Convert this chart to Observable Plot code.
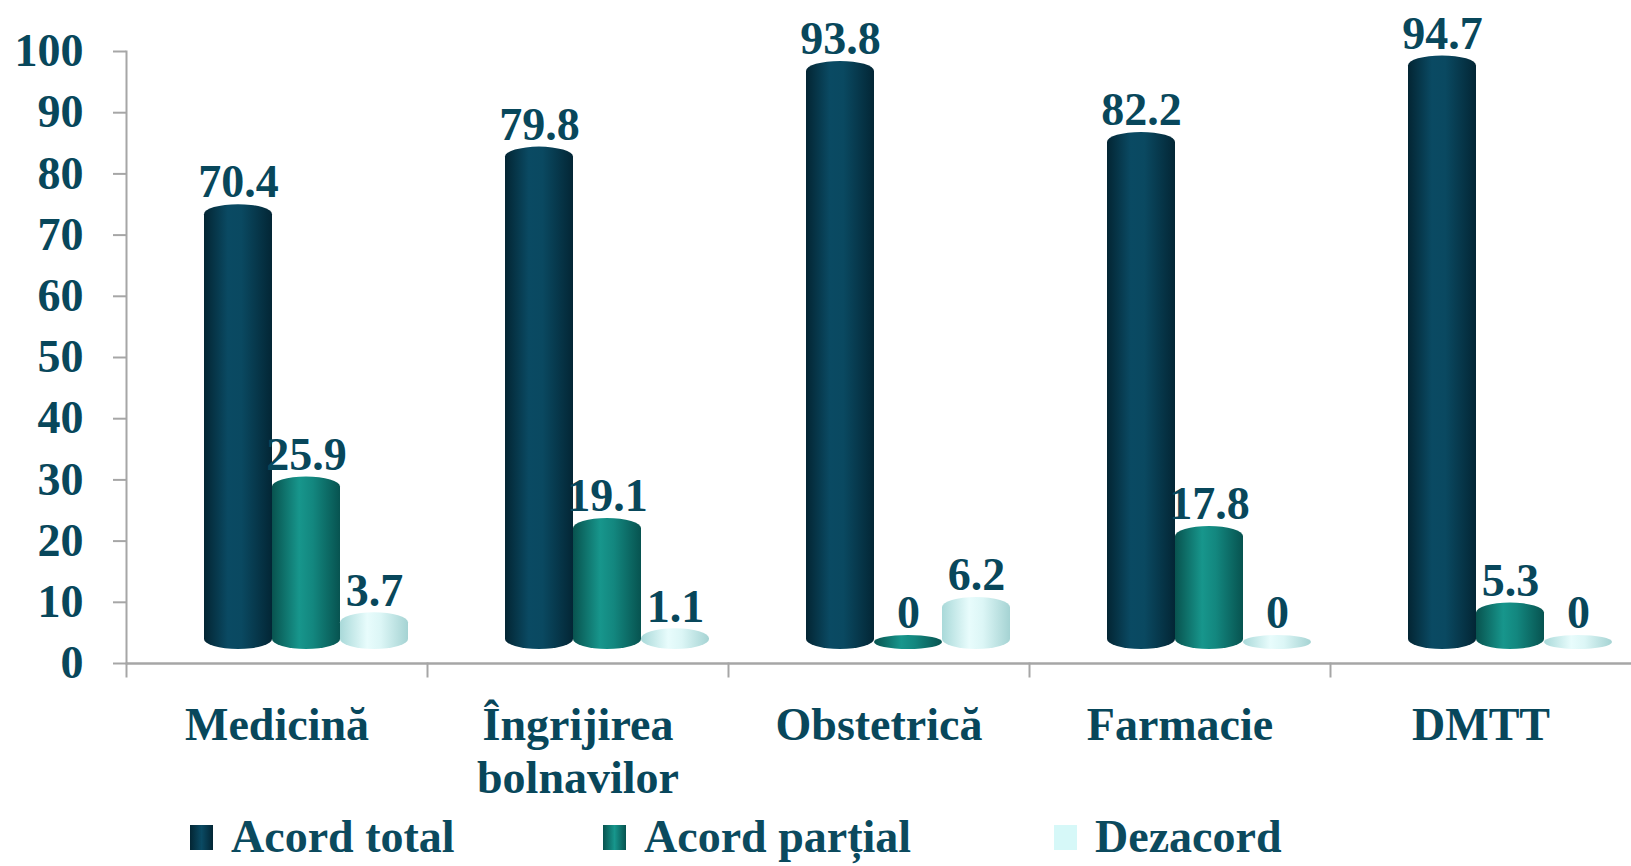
<!DOCTYPE html>
<html>
<head>
<meta charset="utf-8">
<script src="https://cdn.jsdelivr.net/npm/d3@7"></script>
<script src="https://cdn.jsdelivr.net/npm/@observablehq/plot@0.6"></script>
<style>
  html, body { margin: 0; padding: 0; background: #fff; }
  #wrap { width: 1631px; height: 866px; position: relative; overflow: hidden; }
  #chart svg { display: block; }
  #legend { position: relative; height: 56px; font-family: "Liberation Serif", "Times New Roman", serif; font-weight: bold; font-size: 46px; color: #0b4a5e; }
  .item { position: absolute; top: 4px; display: flex; align-items: center; line-height: 46px; }
  .sw { width: 23px; height: 25px; margin-right: 18px; }
</style>
</head>
<body>
<div id="wrap">
  <div id="chart"></div>
  <div id="legend"></div>
</div>
<script>
const categories = ["Medicină", "Îngrijirea bolnavilor", "Obstetrică", "Farmacie", "DMTT"];
const categoryLabels = ["Medicină", "Îngrijirea\nbolnavilor", "Obstetrică", "Farmacie", "DMTT"];
const series = ["Acord total", "Acord parțial", "Dezacord"];
const acordTotal = [70.4, 79.8, 93.8, 82.2, 94.7];
const acordPartial = [25.9, 19.1, 0, 17.8, 5.3];
const dezacord = [3.7, 1.1, 6.2, 0, 0];
const yTicks = [0, 10, 20, 30, 40, 50, 60, 70, 80, 90, 100];

const valuesBySeries = [acordTotal, acordPartial, dezacord];
const data = categories.flatMap((c, i) => series.map((s, j) => ({cat: c, s, v: valuesBySeries[j][i]})));

const textColor = "#08475b";
const gridGrey = "#a6a6a6";
const gradIds = ["gTotal", "gPartial", "gDez"];

const chart = Plot.plot({
  width: 1631,
  height: 810,
  marginLeft: 126,
  marginRight: 0,
  marginTop: 51,
  marginBottom: 147,
  style: {fontFamily: "'Liberation Serif', 'Times New Roman', serif", fontWeight: "bold", fontSize: "46px", color: textColor, background: "white", overflow: "visible"},
  fx: {domain: categories, padding: 0, axis: null},
  x: {domain: series, paddingInner: 0, paddingOuter: 0.71, axis: null},
  y: {domain: [0, 100], axis: null},
  color: {domain: series, range: gradIds.map(id => `url(#${id})`)},
  marks: [
    Plot.frame({anchor: "left", stroke: gridGrey, strokeWidth: 2, facetAnchor: "left"}),
    // category separator ticks below the baseline
    Plot.frame({anchor: "left", stroke: gridGrey, strokeWidth: 2, insetTop: 612, insetBottom: -13}),
    Plot.axisY({ticks: yTicks, tickSize: 13, tickPadding: 30, label: null, stroke: gridGrey, strokeWidth: 2, fill: textColor, fontSize: 46, fontWeight: "bold"}),
    Plot.ruleY([0], {stroke: gridGrey, strokeWidth: 2.5}),
    Plot.barY(data, {fx: "cat", x: "s", y: "v", fill: "s", rx: 34, ry: 10, dx: 29, dy: -14, insetTop: -14}),
    Plot.text(data, {fx: "cat", x: "s", y: "v", text: d => String(d.v), dx: 29, dy: -50, fill: textColor, fontSize: 46, fontWeight: "bold"}),
    Plot.text(categories, {fx: d => d, text: (d, i) => categoryLabels[i], frameAnchor: "bottom", lineAnchor: "top", dy: 39, lineHeight: 1.15, fill: textColor, fontSize: 46, fontWeight: "bold"})
  ]
});

// gradient definitions for the cylinder look
const defs = d3.select(chart).insert("defs", ":first-child");
const gradStops = [
  [["0%", "#032533"], ["35%", "#0a4a63"], ["55%", "#0a4961"], ["100%", "#032635"]],
  [["0%", "#08534f"], ["40%", "#17968c"], ["60%", "#13877f"], ["100%", "#075350"]],
  [["0%", "#a9d9d9"], ["40%", "#e8fcfc"], ["60%", "#dcf6f6"], ["100%", "#a5d3d3"]]
];
gradIds.forEach((id, k) => {
  const g = defs.append("linearGradient").attr("id", id).attr("x1", "0").attr("x2", "1").attr("y1", "0").attr("y2", "0");
  gradStops[k].forEach(([o, c]) => g.append("stop").attr("offset", o).attr("stop-color", c));
});

document.getElementById("chart").appendChild(chart);

// legend
const legend = document.getElementById("legend");
const swatchCss = [
  "linear-gradient(90deg,#032533,#0a4a63,#032635)",
  "linear-gradient(90deg,#08534f,#17968c,#075350)",
  "#d6f8f8"
];
const legendX = [190, 603, 1054];
series.forEach((s, k) => {
  const item = document.createElement("div");
  item.className = "item";
  item.style.left = legendX[k] + "px";
  const sw = document.createElement("span");
  sw.className = "sw";
  sw.style.background = swatchCss[k];
  const t = document.createElement("span");
  t.textContent = s;
  item.appendChild(sw);
  item.appendChild(t);
  legend.appendChild(item);
});
</script>
</body>
</html>
